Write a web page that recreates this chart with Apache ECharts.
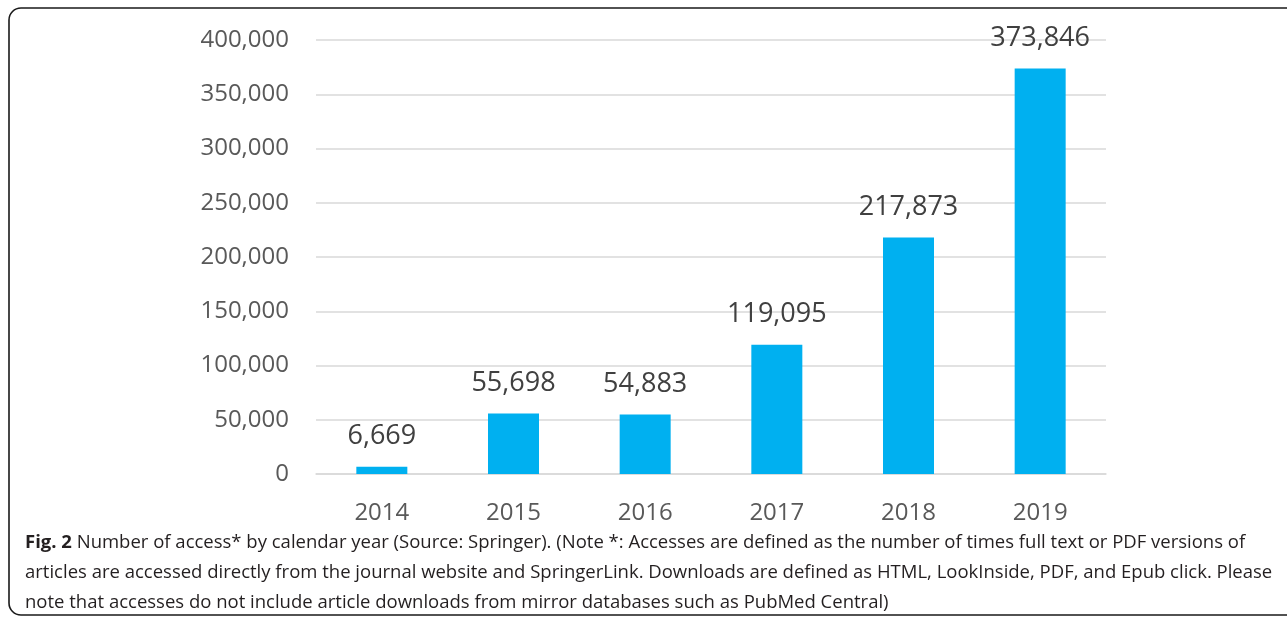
<!DOCTYPE html>
<html>
<head>
<meta charset="utf-8">
<script src="https://cdn.jsdelivr.net/npm/echarts@6/dist/echarts.min.js"></script>
<style>
html,body{margin:0;padding:0;background:#fff;}
#chart{width:1287px;height:617px;}
</style>
</head>
<body>
<div id="chart"></div>
<script>
const categories = ['2014', '2015', '2016', '2017', '2018', '2019'];
const accesses = [6669, 55698, 54883, 119095, 217873, 373846];
const yTicks = { min: 0, max: 400000, interval: 50000 };
const captionLines = [
  'Number of access* by calendar year (Source: Springer). (Note *: Accesses are defined as the number of times full text or PDF versions of',
  'articles are accessed directly from the journal website and SpringerLink. Downloads are defined as HTML, LookInside, PDF, and Epub click. Please',
  'note that accesses do not include article downloads from mirror databases such as PubMed Central)'
];

const fmt = v => v.toLocaleString('en-US');
const chart = echarts.init(document.getElementById('chart'));
chart.setOption({
  animation: false,
  backgroundColor: '#fff',
  grid: { left: 316, right: 181, top: 40, bottom: 143 },
  xAxis: {
    type: 'category',
    data: categories,
    axisLine: { show: true, lineStyle: { color: '#d9d9d9', width: 1.5 } },
    axisTick: { show: false },
    axisLabel: { color: '#595959', fontFamily: 'Open Sans', fontSize: 24, margin: 27 }
  },
  yAxis: {
    type: 'value',
    min: yTicks.min, max: yTicks.max, interval: yTicks.interval,
    axisLine: { show: false },
    axisTick: { show: false },
    splitLine: { lineStyle: { color: '#d9d9d9', width: 1.5 } },
    axisLabel: { color: '#595959', fontFamily: 'Open Sans', fontSize: 24, margin: 27, formatter: fmt }
  },
  series: [{
    type: 'bar',
    data: accesses,
    barWidth: 51,
    itemStyle: { color: '#00B0F0' },
    label: {
      show: true, position: 'top', distance: 17,
      color: '#404040', fontFamily: 'Open Sans', fontSize: 27,
      formatter: p => fmt(p.value)
    }
  }],
  graphic: [
    {
      type: 'rect',
      shape: { x: 9, y: 8, width: 1320, height: 607, r: 12 },
      style: { fill: 'none', stroke: '#1a1a1a', lineWidth: 1.6 },
      z: 100
    },
    {
      type: 'text',
      left: 25, top: 528,
      style: {
        text: '{b|Fig. 2} ' + captionLines.join('\n'),
        rich: {
          b: { fontWeight: 'bold', fontFamily: 'Open Sans', fontSize: 18.5, fill: '#231f20', lineHeight: 30 }
        },
        font: '18.5px "Open Sans"',
        fill: '#231f20',
        lineHeight: 30
      },
      z: 100
    }
  ]
});
</script>
</body>
</html>
